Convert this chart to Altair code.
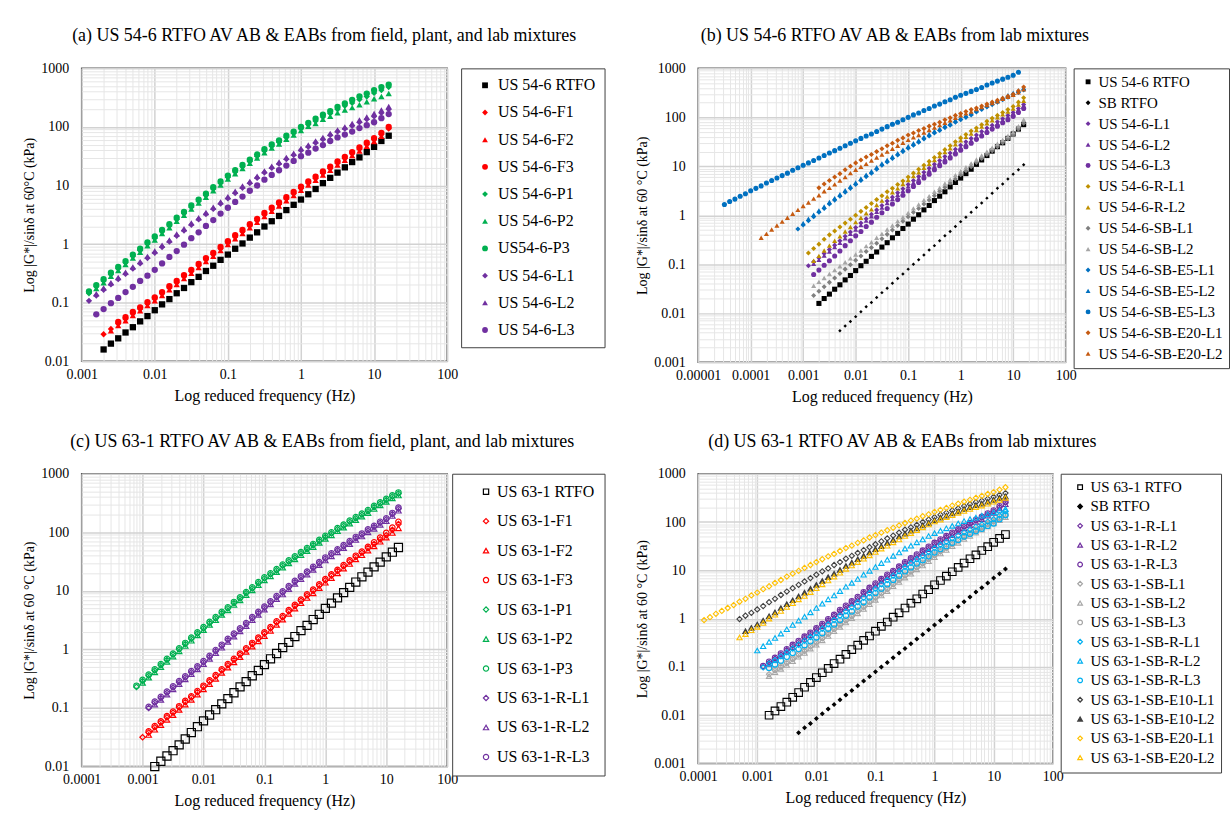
import pandas as pd
import altair as alt

FONT = "Liberation Serif"

# ---------------- data: log10 reduced frequency grids and log10 |G*|/sin(delta) ----------------
XA = [-2.9,-2.8,-2.7,-2.6,-2.5,-2.4,-2.3,-2.2,-2.1,-2.0,-1.9,-1.8,-1.7,-1.6,-1.5,-1.4,-1.3,-1.2,-1.1,-1.0,
      -0.9,-0.8,-0.7,-0.6,-0.5,-0.4,-0.3,-0.2,-0.1,0.0,0.1,0.2,0.3,0.4,0.5,0.6,0.7,0.8,0.9,1.0,1.1,1.2]
XB = [-4.5,-4.4,-4.3,-4.2,-4.1,-4.0,-3.9,-3.8,-3.7,-3.6,-3.5,-3.4,-3.3,-3.2,-3.1,-3.0,-2.9,-2.8,-2.7,-2.6,
      -2.5,-2.4,-2.3,-2.2,-2.1,-2.0,-1.9,-1.8,-1.7,-1.6,-1.5,-1.4,-1.3,-1.2,-1.1,-1.0,-0.9,-0.8,-0.7,-0.6,
      -0.5,-0.4,-0.3,-0.2,-0.1,0.0,0.1,0.2,0.3,0.4,0.5,0.6,0.7,0.8,0.9,1.0,1.1,1.2]
XC = [-3.9,-3.8,-3.7,-3.6,-3.5,-3.4,-3.3,-3.2,-3.1,-3.0,-2.9,-2.8,-2.7,-2.6,-2.5,-2.4,-2.3,-2.2,-2.1,-2.0,
      -1.9,-1.8,-1.7,-1.6,-1.5,-1.4,-1.3,-1.2,-1.1,-1.0,-0.9,-0.8,-0.7,-0.6,-0.5,-0.4,-0.3,-0.2,-0.1,0.0,
      0.1,0.2,0.3,0.4,0.5,0.6,0.7,0.8,0.9,1.0,1.1,1.2]

# panel (a) / shared US 54-6 RTFO
RTFO54 = [-1.80,-1.70,-1.61,-1.51,-1.42,-1.32,-1.23,-1.13,-1.03,-0.94,-0.84,-0.75,-0.65,-0.56,-0.46,-0.37,-0.27,-0.18,
          -0.08,0.01,0.11,0.20,0.30,0.39,0.48,0.58,0.67,0.76,0.85,0.94,1.04,1.13,1.22,1.31,1.40,1.48,1.57,1.66,1.76,1.85]
A_F1 = [-1.54,-1.45,-1.36,-1.28,-1.19,-1.11,-1.02,-0.94,-0.85,-0.75,-0.66,-0.56,-0.47,-0.37,-0.27,-0.18,-0.08,0.02,
        0.12,0.21,0.31,0.40,0.50,0.59,0.68,0.77,0.86,0.95,1.04,1.12,1.21,1.29,1.38,1.46,1.54,1.62,1.70,1.78,1.87,1.97]
A_F2 = [-1.48,-1.39,-1.31,-1.22,-1.14,-1.05,-0.97,-0.88,-0.78,-0.69,-0.59,-0.50,-0.40,-0.30,-0.21,-0.11,-0.01,0.09,
        0.18,0.28,0.37,0.47,0.56,0.65,0.74,0.83,0.92,1.01,1.09,1.18,1.26,1.35,1.43,1.51,1.59,1.67,1.75,1.84]
A_F3 = [-1.33,-1.25,-1.16,-1.08,-0.99,-0.91,-0.82,-0.72,-0.63,-0.53,-0.44,-0.34,-0.24,-0.15,-0.05,0.05,0.15,0.24,
        0.34,0.43,0.53,0.62,0.71,0.80,0.89,0.98,1.07,1.15,1.24,1.32,1.41,1.49,1.57,1.65,1.73,1.81,1.90,2.00]
A_P1 = [-0.84,-0.73,-0.63,-0.52,-0.42,-0.32,-0.21,-0.11,0.00,0.10,0.21,0.31,0.42,0.52,0.63,0.73,0.83,0.94,1.04,1.14,
        1.23,1.32,1.41,1.50,1.59,1.67,1.74,1.82,1.89,1.97,2.04,2.10,2.17,2.23,2.30,2.36,2.41,2.47,2.52,2.58,2.63,2.68]
A_P2 = [-0.76,-0.66,-0.55,-0.45,-0.35,-0.24,-0.14,-0.03,0.07,0.18,0.28,0.39,0.49,0.60,0.70,0.80,0.91,1.01,1.11,1.20,
        1.29,1.38,1.47,1.56,1.64,1.71,1.79,1.86,1.94,2.01,2.06,2.13,2.18,2.24,2.29,2.33,2.38,2.43,2.48,2.52,2.57]
A_P3 = [-0.81,-0.70,-0.60,-0.49,-0.39,-0.29,-0.18,-0.08,0.03,0.13,0.24,0.34,0.45,0.55,0.66,0.76,0.86,0.97,1.07,1.17,
        1.26,1.35,1.44,1.53,1.62,1.70,1.77,1.85,1.92,2.00,2.07,2.14,2.21,2.27,2.34,2.40,2.46,2.52,2.57,2.63,2.68,2.72]
A_L1 = [-0.97,-0.88,-0.78,-0.69,-0.60,-0.51,-0.42,-0.33,-0.24,-0.15,-0.05,0.04,0.14,0.23,0.33,0.42,0.51,0.60,0.69,0.78,
        0.87,0.96,1.04,1.13,1.22,1.30,1.37,1.45,1.52,1.60,1.66,1.73,1.79,1.86,1.92,1.97,2.02,2.08,2.13,2.18,2.24,2.30]
A_L2 = [-0.85,-0.75,-0.66,-0.57,-0.48,-0.39,-0.30,-0.21,-0.12,-0.02,0.07,0.17,0.26,0.36,0.45,0.54,0.63,0.72,0.81,0.90,
        0.99,1.07,1.16,1.25,1.33,1.40,1.48,1.55,1.63,1.69,1.76,1.82,1.89,1.95,2.00,2.06,2.12,2.17,2.23,2.29,2.35]
A_L3 = [-1.20,-1.11,-1.01,-0.92,-0.82,-0.73,-0.63,-0.54,-0.44,-0.33,-0.22,-0.12,-0.01,0.10,0.20,0.31,0.41,0.52,0.62,0.72,
        0.81,0.91,1.00,1.10,1.18,1.26,1.34,1.42,1.50,1.56,1.63,1.69,1.76,1.82,1.87,1.92,1.98,2.03,2.08,2.15,2.22]

# panel (b)
SBRTFO = [-2.36,-2.26,-2.17,-2.07,-1.97,-1.87,-1.78,-1.68,-1.58,-1.49,-1.39,-1.29,-1.20,-1.10,-1.00,-0.91,-0.81,-0.71,
          -0.62,-0.52,-0.42,-0.33,-0.23,-0.13,-0.04,0.06,0.16,0.25,0.35,0.45,0.55,0.64,0.74,0.84,0.93,1.03]
B_L1 = [-1.03,-0.95,-0.87,-0.78,-0.70,-0.61,-0.52,-0.43,-0.34,-0.25,-0.16,-0.07,0.02,0.11,0.20,0.29,0.37,0.46,0.54,0.63,
        0.71,0.79,0.88,0.96,1.04,1.12,1.20,1.27,1.35,1.43,1.50,1.57,1.64,1.71,1.78,1.84,1.91,1.97,2.04,2.10,2.18,2.26]
B_L2 = [-0.99,-0.91,-0.82,-0.74,-0.65,-0.56,-0.47,-0.38,-0.29,-0.20,-0.11,-0.02,0.07,0.16,0.25,0.33,0.42,0.50,0.59,0.67,
        0.75,0.84,0.92,1.00,1.08,1.16,1.23,1.31,1.39,1.46,1.53,1.60,1.67,1.74,1.81,1.88,1.94,2.01,2.08,2.16,2.24]
B_L3 = [-1.21,-1.12,-1.02,-0.93,-0.83,-0.73,-0.62,-0.52,-0.42,-0.33,-0.23,-0.14,-0.04,0.05,0.14,0.23,0.32,0.41,0.50,0.59,
        0.67,0.76,0.84,0.93,1.01,1.09,1.17,1.25,1.33,1.40,1.47,1.55,1.62,1.69,1.76,1.82,1.89,1.95,2.02,2.10,2.18]
B_RL1 = [-0.77,-0.68,-0.59,-0.49,-0.40,-0.32,-0.24,-0.16,-0.08,0.00,0.08,0.16,0.24,0.32,0.40,0.48,0.55,0.63,0.70,0.78,
         0.86,0.94,1.02,1.10,1.18,1.26,1.34,1.42,1.50,1.58,1.65,1.72,1.78,1.85,1.92,1.98,2.04,2.10,2.16,2.22,2.31,2.40]
B_RL2 = [-0.93,-0.83,-0.72,-0.62,-0.52,-0.43,-0.33,-0.24,-0.14,-0.05,0.04,0.12,0.21,0.30,0.38,0.47,0.55,0.64,0.72,0.80,
         0.88,0.97,1.05,1.13,1.21,1.29,1.37,1.45,1.53,1.60,1.67,1.74,1.81,1.88,1.94,2.00,2.06,2.12,2.18,2.26,2.34]
B_SBL1 = [-1.64,-1.55,-1.46,-1.37,-1.28,-1.19,-1.10,-1.01,-0.92,-0.83,-0.74,-0.66,-0.57,-0.48,-0.39,-0.30,-0.21,-0.12,
          -0.03,0.06,0.14,0.23,0.31,0.40,0.49,0.57,0.66,0.74,0.83,0.91,0.99,1.08,1.16,1.24,1.32,1.40,1.48,1.56,1.64,1.76,1.88]
B_SBL2 = [-1.44,-1.36,-1.28,-1.20,-1.12,-1.04,-0.96,-0.88,-0.80,-0.72,-0.63,-0.55,-0.46,-0.38,-0.29,-0.21,-0.12,-0.04,
          0.05,0.14,0.22,0.31,0.39,0.48,0.56,0.65,0.73,0.82,0.90,0.98,1.06,1.14,1.22,1.30,1.38,1.46,1.54,1.62,1.70,1.82,1.95]
B_E1 = [-0.28,-0.20,-0.11,-0.03,0.06,0.14,0.23,0.31,0.39,0.47,0.55,0.63,0.71,0.79,0.86,0.94,1.02,1.09,1.16,1.23,1.30,
        1.37,1.43,1.49,1.56,1.62,1.68,1.73,1.79,1.84,1.90,1.95,2.00,2.05,2.11,2.16,2.21,2.26,2.31,2.36,2.41,2.46,2.51,2.56]
B_E2 = [-0.16,-0.07,0.01,0.10,0.18,0.27,0.35,0.43,0.51,0.59,0.67,0.75,0.83,0.90,0.98,1.06,1.13,1.20,1.27,1.34,1.41,
        1.47,1.53,1.60,1.66,1.72,1.77,1.83,1.88,1.94,1.99,2.04,2.09,2.15,2.20,2.25,2.30,2.35,2.40,2.45,2.50,2.55,2.60]
B_E3 = [0.22,0.28,0.33,0.39,0.44,0.50,0.55,0.60,0.66,0.71,0.76,0.81,0.86,0.92,0.97,1.02,1.07,1.12,1.17,1.22,1.27,1.32,
        1.37,1.42,1.47,1.52,1.57,1.62,1.66,1.71,1.76,1.81,1.86,1.90,1.95,2.00,2.05,2.09,2.14,2.18,2.23,2.27,2.32,2.36,
        2.41,2.45,2.49,2.53,2.57,2.61,2.66,2.70,2.74,2.78,2.82,2.86,2.92]
B_O1 = [0.56,0.64,0.71,0.78,0.85,0.93,1.00,1.07,1.13,1.19,1.24,1.30,1.36,1.42,1.47,1.53,1.58,1.64,1.68,1.73,1.77,1.82,
        1.86,1.90,1.95,1.99,2.04,2.08,2.12,2.16,2.19,2.23,2.27,2.31,2.35,2.39,2.43,2.47,2.54,2.62]
B_O2 = [-0.46,-0.38,-0.29,-0.21,-0.13,-0.05,0.03,0.11,0.19,0.26,0.34,0.41,0.49,0.56,0.63,0.71,0.78,0.86,0.93,0.99,1.05,
        1.12,1.18,1.24,1.30,1.36,1.42,1.48,1.54,1.59,1.64,1.69,1.74,1.79,1.84,1.89,1.94,1.99,2.04,2.08,2.12,2.17,2.21,
        2.25,2.29,2.33,2.38,2.42,2.46,2.51,2.57]

# panel (c) / shared US 63-1 series
RTFO63 = [-2.00,-1.91,-1.82,-1.73,-1.63,-1.53,-1.42,-1.32,-1.22,-1.12,-1.03,-0.93,-0.84,-0.74,-0.64,-0.55,-0.45,-0.36,
          -0.26,-0.16,-0.07,0.03,0.12,0.22,0.32,0.41,0.51,0.60,0.70,0.79,0.88,0.97,1.06,1.15,1.24,1.32,1.41,1.49,1.58,1.66,1.74]
C_F1 = [-1.50,-1.42,-1.33,-1.25,-1.16,-1.08,-0.99,-0.90,-0.82,-0.73,-0.64,-0.55,-0.46,-0.36,-0.27,-0.18,-0.09,0.00,0.09,
        0.18,0.27,0.36,0.46,0.55,0.65,0.74,0.83,0.92,1.00,1.09,1.18,1.26,1.34,1.42,1.50,1.58,1.65,1.73,1.80,1.88,1.95,2.04,2.14]
C_F2 = [-1.46,-1.37,-1.29,-1.20,-1.12,-1.03,-0.94,-0.86,-0.77,-0.68,-0.59,-0.50,-0.40,-0.31,-0.22,-0.13,-0.04,0.05,0.14,
        0.23,0.32,0.42,0.51,0.61,0.70,0.79,0.88,0.96,1.05,1.14,1.22,1.30,1.38,1.46,1.54,1.61,1.69,1.76,1.84,1.91,1.99,2.07]
C_F3 = [-1.40,-1.31,-1.23,-1.14,-1.06,-0.97,-0.88,-0.80,-0.71,-0.62,-0.53,-0.44,-0.34,-0.25,-0.16,-0.07,0.02,0.11,0.20,
        0.29,0.38,0.48,0.57,0.67,0.76,0.85,0.94,1.02,1.11,1.20,1.28,1.36,1.44,1.52,1.60,1.67,1.75,1.83,1.91,1.99,2.08,2.18]
C_P1 = [-0.64,-0.54,-0.45,-0.36,-0.27,-0.18,-0.09,0.00,0.09,0.18,0.27,0.36,0.45,0.53,0.62,0.70,0.79,0.87,0.96,1.04,1.13,
        1.21,1.28,1.35,1.43,1.50,1.57,1.64,1.71,1.78,1.85,1.92,1.98,2.05,2.11,2.18,2.24,2.30,2.36,2.43,2.49,2.55,2.61,2.66]
C_P2 = [-0.57,-0.48,-0.39,-0.30,-0.21,-0.12,-0.03,0.06,0.15,0.24,0.33,0.42,0.50,0.59,0.67,0.76,0.84,0.93,1.01,1.10,1.18,
        1.25,1.32,1.40,1.47,1.54,1.61,1.68,1.75,1.82,1.89,1.95,2.02,2.08,2.15,2.21,2.27,2.33,2.40,2.46,2.52,2.58,2.63]
C_P3 = [-0.62,-0.52,-0.43,-0.34,-0.25,-0.16,-0.07,0.02,0.11,0.20,0.29,0.38,0.47,0.55,0.64,0.72,0.81,0.89,0.98,1.06,1.15,
        1.23,1.30,1.37,1.45,1.52,1.59,1.66,1.73,1.80,1.87,1.94,2.00,2.07,2.13,2.20,2.26,2.32,2.38,2.45,2.51,2.57,2.63,2.68]
C_RL1 = [-1.00,-0.91,-0.83,-0.74,-0.65,-0.56,-0.48,-0.39,-0.31,-0.22,-0.13,-0.03,0.06,0.16,0.25,0.34,0.43,0.53,0.62,0.71,
         0.80,0.89,0.97,1.06,1.15,1.23,1.31,1.39,1.47,1.55,1.62,1.69,1.76,1.83,1.90,1.96,2.03,2.09,2.16,2.22,2.31,2.40]
C_RL2 = [-0.94,-0.86,-0.77,-0.68,-0.59,-0.51,-0.42,-0.34,-0.25,-0.16,-0.06,0.03,0.13,0.22,0.31,0.40,0.50,0.59,0.68,0.77,
         0.86,0.94,1.03,1.12,1.20,1.28,1.36,1.44,1.52,1.59,1.66,1.73,1.80,1.87,1.93,2.00,2.06,2.13,2.19,2.28,2.37]
C_RL3 = [-0.98,-0.89,-0.81,-0.72,-0.63,-0.54,-0.46,-0.37,-0.29,-0.20,-0.11,-0.01,0.08,0.18,0.27,0.36,0.45,0.55,0.64,0.73,
         0.82,0.91,0.99,1.08,1.17,1.25,1.33,1.41,1.49,1.57,1.64,1.71,1.78,1.85,1.92,1.98,2.05,2.11,2.18,2.24,2.33,2.42]

# panel (d)
D_Y1 = [-0.03,0.03,0.10,0.16,0.22,0.28,0.35,0.41,0.48,0.54,0.61,0.67,0.74,0.80,0.87,0.93,0.99,1.05,1.11,1.17,1.23,1.29,
        1.34,1.40,1.46,1.51,1.57,1.62,1.68,1.73,1.78,1.83,1.88,1.93,1.98,2.03,2.07,2.12,2.16,2.21,2.25,2.29,2.34,2.38,
        2.42,2.46,2.50,2.54,2.58,2.62,2.67,2.72]
D_Y2 = [-0.39,-0.32,-0.24,-0.17,-0.09,0.00,0.08,0.16,0.24,0.32,0.40,0.47,0.55,0.63,0.71,0.79,0.87,0.95,1.03,1.10,1.17,
        1.24,1.31,1.38,1.45,1.51,1.58,1.64,1.71,1.77,1.83,1.89,1.95,2.01,2.05,2.10,2.14,2.19,2.23,2.27,2.31,2.34,2.38,
        2.42,2.46,2.50]
D_E1 = [-0.01,0.06,0.12,0.19,0.26,0.34,0.41,0.49,0.56,0.63,0.70,0.77,0.84,0.91,0.98,1.04,1.11,1.17,1.24,1.30,1.36,1.42,
        1.48,1.54,1.60,1.66,1.72,1.78,1.84,1.89,1.94,2.00,2.05,2.10,2.15,2.19,2.24,2.28,2.33,2.37,2.41,2.44,2.48,2.52,
        2.56,2.60]
D_E2 = [-0.26,-0.19,-0.12,-0.04,0.05,0.13,0.22,0.30,0.38,0.46,0.54,0.62,0.70,0.78,0.86,0.93,1.01,1.09,1.16,1.23,1.30,
        1.37,1.44,1.50,1.57,1.63,1.70,1.76,1.82,1.87,1.93,1.98,2.04,2.09,2.13,2.18,2.22,2.27,2.31,2.35,2.38,2.42,2.46,
        2.50,2.53]
D_SRL1 = [-1.01,-0.93,-0.86,-0.78,-0.70,-0.62,-0.54,-0.46,-0.38,-0.30,-0.21,-0.12,-0.03,0.06,0.15,0.24,0.34,0.43,0.53,
          0.62,0.71,0.80,0.89,0.98,1.07,1.15,1.23,1.30,1.38,1.46,1.53,1.59,1.66,1.72,1.79,1.84,1.90,1.95,2.01,2.06,2.14,2.22]
D_SRL2 = [-0.66,-0.57,-0.48,-0.40,-0.31,-0.22,-0.13,-0.04,0.04,0.13,0.22,0.31,0.40,0.48,0.57,0.66,0.74,0.82,0.91,0.99,
          1.07,1.15,1.22,1.30,1.37,1.45,1.51,1.58,1.64,1.71,1.77,1.82,1.87,1.92,1.97,2.02,2.06,2.09,2.13,2.16,2.20,2.24,2.27]
D_SRL3 = [-1.02,-0.95,-0.87,-0.79,-0.71,-0.63,-0.55,-0.47,-0.39,-0.30,-0.21,-0.12,-0.03,0.06,0.15,0.25,0.34,0.44,0.53,
          0.62,0.71,0.80,0.89,0.98,1.06,1.14,1.21,1.29,1.37,1.44,1.50,1.57,1.63,1.70,1.75,1.81,1.86,1.92,1.97,2.06,2.14]
D_SBL1 = [-1.15,-1.07,-1.00,-0.92,-0.84,-0.75,-0.67,-0.58,-0.50,-0.41,-0.32,-0.22,-0.13,-0.04,0.05,0.15,0.24,0.34,0.43,
          0.52,0.61,0.71,0.80,0.89,0.97,1.06,1.14,1.23,1.31,1.39,1.46,1.54,1.61,1.69,1.75,1.82,1.88,1.95,2.01,2.08,2.14]
D_SBL2 = [-1.19,-1.11,-1.04,-0.96,-0.88,-0.79,-0.71,-0.62,-0.54,-0.45,-0.36,-0.26,-0.17,-0.08,0.01,0.11,0.20,0.30,0.39,
          0.48,0.57,0.67,0.76,0.85,0.93,1.02,1.10,1.19,1.27,1.35,1.42,1.50,1.57,1.65,1.71,1.78,1.84,1.91,1.97,2.04,2.10]
D_SBL3 = [-1.05,-0.98,-0.90,-0.82,-0.73,-0.65,-0.56,-0.48,-0.39,-0.30,-0.20,-0.11,-0.02,0.07,0.17,0.26,0.36,0.45,0.54,
          0.63,0.73,0.82,0.91,0.99,1.08,1.16,1.25,1.33,1.41,1.48,1.56,1.63,1.71,1.77,1.84,1.90,1.97,2.03,2.10,2.16]

# ---------------- styles ----------------
BLACK, RED, GREEN, PURPLE = "#000000", "#FF0000", "#00B050", "#7030A0"
GOLD, GREY1, GREY2, BLUE, ORANGE = "#BF9000", "#7F7F7F", "#A6A6A6", "#0070C0", "#C55A11"
LBLUE, YELLOW, DGREY = "#00B0F0", "#FFC000", "#404040"
SQ, DI, TR, CI = "square", "diamond", "triangle-up", "circle"
NONE = "transparent"

# (name, x grid, first log-frequency, log values, colour, shape, fill)
PANEL_A = [
    ("US 54-6 RTFO", XA, -2.7, RTFO54, BLACK, SQ, None),
    ("US 54-6-F1", XA, -2.7, A_F1, RED, DI, None),
    ("US 54-6-F2", XA, -2.6, A_F2, RED, TR, None),
    ("US 54-6-F3", XA, -2.5, A_F3, RED, CI, None),
    ("US 54-6-P1", XA, -2.9, A_P1, GREEN, DI, None),
    ("US 54-6-P2", XA, -2.8, A_P2, GREEN, TR, None),
    ("US54-6-P3", XA, -2.9, A_P3, GREEN, CI, None),
    ("US 54-6-L1", XA, -2.9, A_L1, PURPLE, DI, None),
    ("US 54-6-L2", XA, -2.8, A_L2, PURPLE, TR, None),
    ("US 54-6-L3", XA, -2.8, A_L3, PURPLE, CI, None),
]
PANEL_B = [
    ("US 54-6 RTFO", XB, -2.7, RTFO54, BLACK, SQ, None),
    ("SB RTFO", XB, -2.3, SBRTFO, BLACK, DI, None),
    ("US 54-6-L1", XB, -2.9, B_L1, PURPLE, DI, None),
    ("US 54-6-L2", XB, -2.8, B_L2, PURPLE, TR, None),
    ("US 54-6-L3", XB, -2.8, B_L3, PURPLE, CI, None),
    ("US 54-6-R-L1", XB, -2.9, B_RL1, GOLD, DI, None),
    ("US 54-6-R-L2", XB, -2.8, B_RL2, GOLD, TR, None),
    ("US 54-6-SB-L1", XB, -2.8, B_SBL1, GREY1, DI, None),
    ("US 54-6-SB-L2", XB, -2.8, B_SBL2, GREY2, TR, None),
    ("US 54-6-SB-E5-L1", XB, -3.1, B_E1, BLUE, DI, None),
    ("US 54-6-SB-E5-L2", XB, -3.0, B_E2, BLUE, TR, None),
    ("US 54-6-SB-E5-L3", XB, -4.5, B_E3, BLUE, CI, None),
    ("US 54-6-SB-E20-L1", XB, -2.7, B_O1, ORANGE, DI, None),
    ("US 54-6-SB-E20-L2", XB, -3.8, B_O2, ORANGE, TR, None),
]
PANEL_C = [
    ("US 63-1 RTFO", XC, -2.8, RTFO63, BLACK, SQ, None),
    ("US 63-1-F1", XC, -3.0, C_F1, RED, DI, None),
    ("US 63-1-F2", XC, -2.9, C_F2, RED, TR, None),
    ("US 63-1-F3", XC, -2.9, C_F3, RED, CI, None),
    ("US 63-1-P1", XC, -3.1, C_P1, GREEN, DI, None),
    ("US 63-1-P2", XC, -3.0, C_P2, GREEN, TR, None),
    ("US 63-1-P3", XC, -3.1, C_P3, GREEN, CI, None),
    ("US 63-1-R-L1", XC, -2.9, C_RL1, PURPLE, DI, None),
    ("US 63-1-R-L2", XC, -2.8, C_RL2, PURPLE, TR, None),
    ("US 63-1-R-L3", XC, -2.9, C_RL3, PURPLE, CI, None),
]
PANEL_D = [
    ("US 63-1 RTFO", XC, -2.8, RTFO63, BLACK, SQ, NONE),
    ("SB RTFO", XC, -2.3, SBRTFO, BLACK, DI, BLACK),
    ("US 63-1-R-L1", XC, -2.9, C_RL1, PURPLE, DI, NONE),
    ("US 63-1-R-L2", XC, -2.8, C_RL2, PURPLE, TR, NONE),
    ("US 63-1-R-L3", XC, -2.9, C_RL3, PURPLE, CI, NONE),
    ("US 63-1-SB-L1", XC, -2.8, D_SBL1, GREY2, DI, NONE),
    ("US 63-1-SB-L2", XC, -2.8, D_SBL2, GREY2, TR, NONE),
    ("US 63-1-SB-L3", XC, -2.7, D_SBL3, GREY2, CI, NONE),
    ("US 63-1-SB-R-L1", XC, -2.9, D_SRL1, LBLUE, DI, NONE),
    ("US 63-1-SB-R-L2", XC, -3.0, D_SRL2, LBLUE, TR, NONE),
    ("US 63-1-SB-R-L3", XC, -2.8, D_SRL3, LBLUE, CI, NONE),
    ("US 63-1-SB-E10-L1", XC, -3.3, D_E1, DGREY, DI, NONE),
    ("US 63-1-SB-E10-L2", XC, -3.2, D_E2, DGREY, TR, DGREY),
    ("US 63-1-SB-E20-L1", XC, -3.9, D_Y1, YELLOW, DI, NONE),
    ("US 63-1-SB-E20-L2", XC, -3.3, D_Y2, YELLOW, TR, NONE),
]


def frame(series):
    rows = []
    for name, grid, start, ys, *_ in series:
        i0 = grid.index(start)
        xs = grid[i0:i0 + len(ys)]
        for x, y in zip(xs, ys):
            rows.append({"s": name, "f": 10 ** x, "g": 10 ** y})
    return pd.DataFrame(rows)


def majors(lo, hi):
    return [float("1e%d" % e) for e in range(lo, hi + 1)]


def minors(lo, hi):
    return [float("%de%d" % (m, e)) for e in range(lo, hi) for m in range(2, 10)]


def panel(series, xe, ye, title, dx, ytitle, w, h, leg, filled, size_default, size_cond, sw):
    df = frame(series)
    names = [s[0] for s in series]
    xsc = alt.Scale(type="log", domain=[10.0 ** xe[0], 10.0 ** xe[1]], nice=False)
    ysc = alt.Scale(type="log", domain=[10.0 ** ye[0], 10.0 ** ye[1]], nice=False)
    base = alt.Chart(df)
    grid = base.mark_point(opacity=0).encode(
        x=alt.X("f:Q", scale=xsc, axis=alt.Axis(values=minors(*xe), labels=False, ticks=False, domain=False,
                                                 grid=True, gridColor="#E6E6E6", gridWidth=1, title="", orient="bottom")),
        y=alt.Y("g:Q", scale=ysc, axis=alt.Axis(values=minors(*ye), labels=False, ticks=False, domain=False,
                                                 grid=True, gridColor="#E6E6E6", gridWidth=1, title="", orient="left")),
    )
    legend = alt.Legend(orient="right", labelFont=FONT, labelColor="#000000", labelLimit=300,
                        strokeColor="#404040", fillColor="#FFFFFF", symbolStrokeWidth=1.2, **leg)
    enc = dict(
        x=alt.X("f:Q", scale=xsc, axis=alt.Axis(values=majors(*xe), format="~g", grid=True, gridColor="#D2D2D2",
                                                 gridWidth=1.5, ticks=False, domain=False, orient="bottom",
                                                 labelFlush=False, labelFont=FONT, labelFontSize=14,
                                                 titleFont=FONT, titleFontSize=16, titleFontWeight="normal",
                                                 title="Log reduced frequency (Hz)", labelPadding=6, titlePadding=6)),
        y=alt.Y("g:Q", scale=ysc, axis=alt.Axis(values=majors(*ye), format="~g", grid=True, gridColor="#D2D2D2",
                                                 gridWidth=1.5, ticks=False, domain=False, orient="left",
                                                 labelFlush=False, labelFont=FONT, labelFontSize=14,
                                                 titleFont=FONT, titleFontSize=14, titleFontWeight="normal",
                                                 title=ytitle, labelPadding=13, titlePadding=4)),
        color=alt.Color("s:N", scale=alt.Scale(domain=names, range=[s[4] for s in series]), title=None, legend=legend),
        shape=alt.Shape("s:N", scale=alt.Scale(domain=names, range=[s[5] for s in series]), title=None, legend=legend),
        size={"value": size_default,
              "condition": [{"test": "datum.s === '%s'" % k, "value": v} for k, v in size_cond.items()]},
    )
    if series[0][6] is not None:
        enc["fill"] = alt.Fill("s:N", scale=alt.Scale(domain=names, range=[s[6] for s in series]),
                               title=None, legend=legend)
    pts = base.mark_point(filled=filled, opacity=1, strokeWidth=sw).encode(**enc)
    return (
        alt.layer(grid, pts)
        .resolve_axis(x="independent", y="independent")
        .properties(width=w, height=h,
                    title=alt.TitleParams(title, font=FONT, fontSize=18, fontWeight="normal", color="#000000",
                                          anchor="middle", dx=dx, offset=16))
    )


ca = panel(PANEL_A, (-3, 2), (-2, 3), "(a) US 54-6 RTFO AV AB & EABs from field, plant, and lab mixtures", 60,
           "Log |G*|/sinδ at 60°C (kPa)", 367, 294,
           dict(offset=14, padding=9, rowPadding=11.3, labelFontSize=16, symbolSize=34, symbolOffset=7, labelOffset=5),
           True, 40, {}, 1)
cb = panel(PANEL_B, (-5, 2), (-3, 3), "(b) US 54-6 RTFO AV AB & EABs from lab mixtures", 13,
           "Log |G*|/sinδ at 60 °C  (kPa)", 369, 295,
           dict(offset=8, padding=6, rowPadding=5.0, labelFontSize=15, symbolSize=24, symbolOffset=1, labelOffset=3),
           True, 26, {"SB RTFO": 12}, 1)
cc = panel(PANEL_C, (-4, 2), (-2, 3), "(c) US 63-1 RTFO AV AB & EABs from field, plant, and lab mixtures", 58,
           "Log |G*|/sinδ at 60 °C (kPa)", 367, 294,
           dict(offset=5, padding=10, rowPadding=13.6, labelFontSize=16, symbolSize=28, symbolOffset=16, labelOffset=3),
           False, 30, {"US 63-1 RTFO": 66}, 1.2)
cd = panel(PANEL_D, (-4, 2), (-3, 3), "(d) US 63-1 RTFO AV AB & EABs from lab mixtures", 27,
           "Log |G*|/sinδ at 60 °C (kPa)", 356, 291,
           dict(offset=8, padding=6, rowPadding=3.4, labelFontSize=15, symbolSize=22, symbolOffset=6, labelOffset=3),
           False, 28, {"US 63-1 RTFO": 58, "SB RTFO": 12}, 1.1)

chart = (
    alt.concat(ca, cb, cc, cd, columns=2, spacing={"row": 27, "column": 28})
    .resolve_scale(color="independent", shape="independent", fill="independent", x="independent", y="independent")
    .properties(padding={"left": 22, "top": 25, "right": 0, "bottom": 0}, background="#FFFFFF")
    .configure_view(stroke="#595959", strokeWidth=1.5)
    .configure_axis(labelFont=FONT, titleFont=FONT, labelColor="#000000", titleColor="#000000")
)

chart.save("out.html", embed_options={"renderer": "svg", "actions": False})
